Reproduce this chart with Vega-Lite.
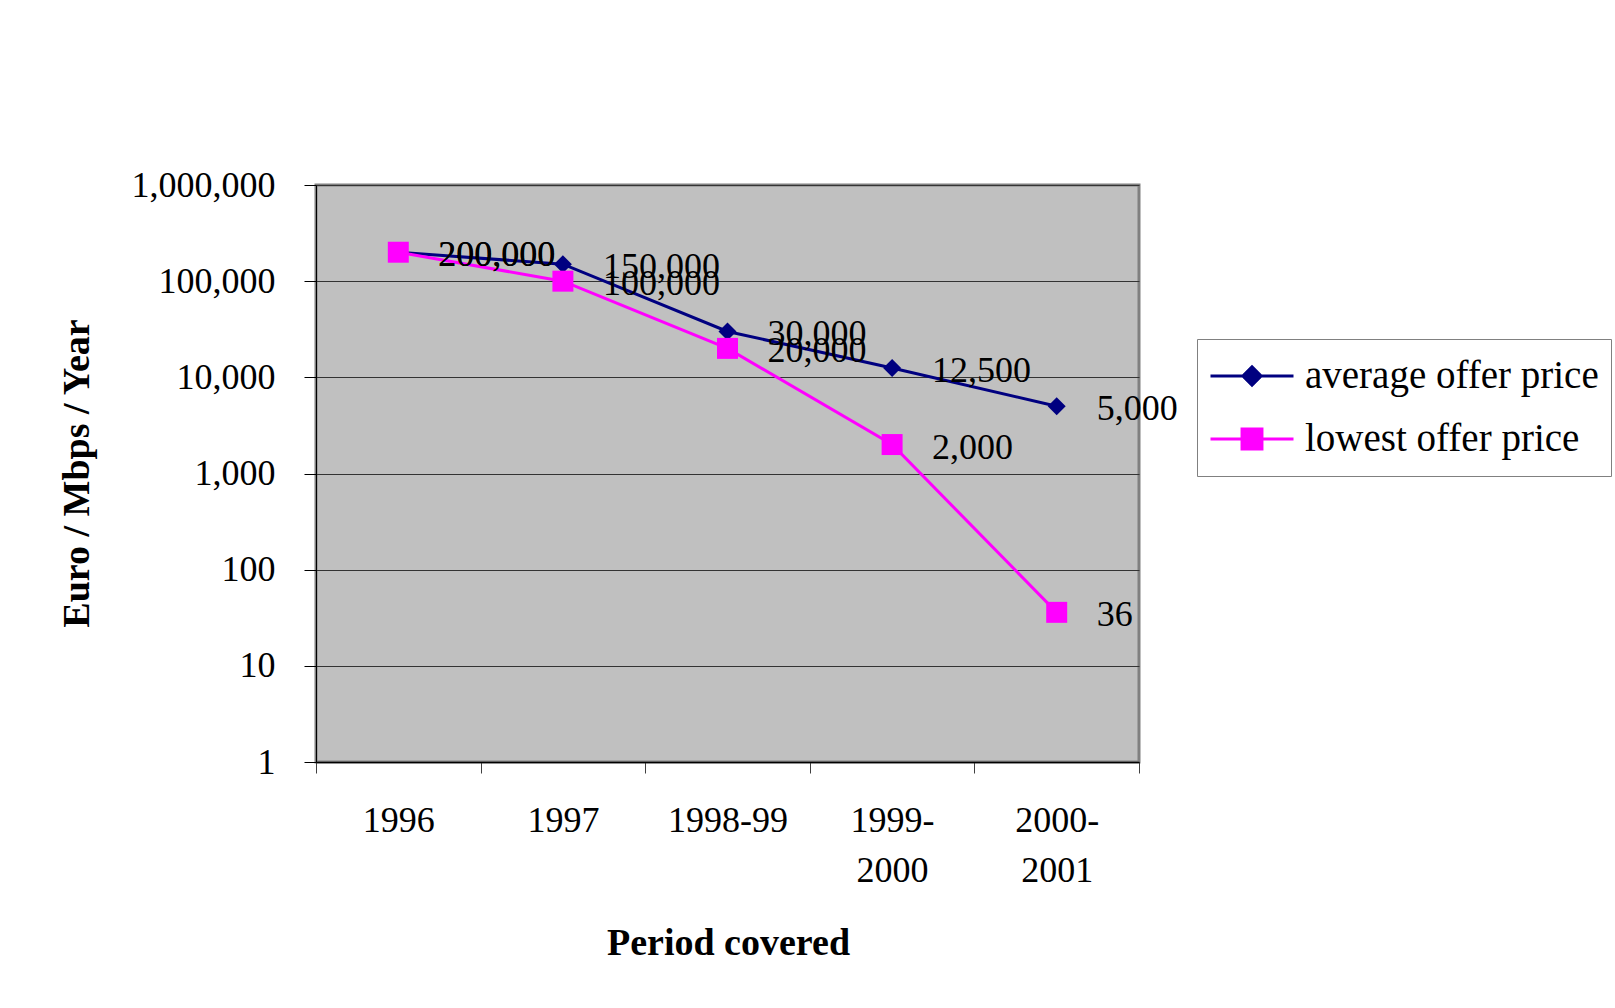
{
  "$schema": "https://vega.github.io/schema/vega-lite/v6.json",
  "autosize": {"type": "none"},
  "width": 823,
  "height": 577,
  "padding": {"left": 316, "top": 185, "right": 476, "bottom": 246},
  "background": "white",
  "config": {
    "font": "Liberation Serif",
    "view": {"fill": "#C0C0C0", "stroke": "#808080", "strokeWidth": 3}
  },
  "data": {
    "values": [
      {"period": "1996", "series": "average offer price", "value": 200000},
      {"period": "1997", "series": "average offer price", "value": 150000},
      {"period": "1998-99", "series": "average offer price", "value": 30000},
      {"period": "1999-2000", "series": "average offer price", "value": 12500},
      {"period": "2000-2001", "series": "average offer price", "value": 5000},
      {"period": "1996", "series": "lowest offer price", "value": 200000},
      {"period": "1997", "series": "lowest offer price", "value": 100000},
      {"period": "1998-99", "series": "lowest offer price", "value": 20000},
      {"period": "1999-2000", "series": "lowest offer price", "value": 2000},
      {"period": "2000-2001", "series": "lowest offer price", "value": 36}
    ]
  },
  "encoding": {
    "x": {
      "field": "period",
      "type": "ordinal",
      "sort": ["1996", "1997", "1998-99", "1999-2000", "2000-2001"],
      "bandPosition": 0.5,
      "scale": {"type": "band", "paddingInner": 0, "paddingOuter": 0},
      "axis": {
        "title": "Period covered",
        "titleFont": "Liberation Serif",
        "titleFontSize": 38,
        "titleFontWeight": "bold",
        "titleColor": "black",
        "titleX": 412,
        "titleY": 181,
        "titleAlign": "center",
        "titleBaseline": "middle",
        "labelAngle": 0,
        "labelFont": "Liberation Serif",
        "labelFontSize": 36,
        "labelColor": "black",
        "labelBaseline": "top",
        "labelLineHeight": 50,
        "labelPadding": 30,
        "labelExpr": "datum.value == '1999-2000' ? ['1999-', '2000'] : datum.value == '2000-2001' ? ['2000-', '2001'] : datum.value",
        "tickBand": "extent",
        "tickSize": 11,
        "tickColor": "#404040",
        "domainColor": "black",
        "domainWidth": 1.5,
        "grid": false
      }
    },
    "y": {
      "field": "value",
      "type": "quantitative",
      "scale": {"type": "log", "domain": [1, 1000000], "nice": false},
      "axis": {
        "title": "Euro / Mbps / Year",
        "titleFont": "Liberation Serif",
        "titleFontSize": 38,
        "titleFontWeight": "bold",
        "titleColor": "black",
        "titleX": -239,
        "titleY": 288,
        "titleAngle": -90,
        "titleAlign": "center",
        "titleBaseline": "middle",
        "values": [1, 10, 100, 1000, 10000, 100000, 1000000],
        "format": ",",
        "labelFont": "Liberation Serif",
        "labelFontSize": 36,
        "labelColor": "black",
        "labelPadding": 29,
        "labelBaseline": "middle",
        "tickSize": 12,
        "tickColor": "black",
        "domainColor": "black",
        "domainWidth": 1,
        "grid": true,
        "gridColor": "#333333",
        "gridWidth": 1
      }
    }
  },
  "layer": [
    {
      "mark": {"type": "line", "strokeWidth": 3},
      "encoding": {
        "color": {
          "field": "series",
          "type": "nominal",
          "scale": {"domain": ["average offer price", "lowest offer price"], "range": ["#000080", "#FF00FF"]},
          "legend": {
            "title": null,
            "orient": "none",
            "legendX": 881,
            "legendY": 154,
            "direction": "vertical",
            "fillColor": "white",
            "strokeColor": "#808080",
            "padding": 12,
            "symbolSize": 6889,
            "symbolStrokeWidth": 3,
            "symbolOpacity": 1,
            "clipHeight": 50,
            "rowPadding": 13,
            "labelFont": "Liberation Serif",
            "labelFontSize": 39,
            "labelColor": "black",
            "labelOffset": 10,
            "labelLimit": 500
          }
        }
      }
    },
    {
      "mark": {"type": "point", "filled": false, "opacity": 0, "size": 6889, "strokeWidth": 3},
      "encoding": {
        "color": {"field": "series", "type": "nominal"},
        "shape": {
          "field": "series",
          "type": "nominal",
          "scale": {
            "domain": ["average offer price", "lowest offer price"],
            "range": [
              "M-1,0H1M0,-0.22L0.22,0L0,0.22L-0.22,0ZM-0.16,-0.06H0.16M-0.16,0.06H0.16M-0.1,-0.12H0.1M-0.1,0.12H0.1M-0.04,-0.18H0.04M-0.04,0.18H0.04",
              "M-1,0H1M-0.24,-0.24H0.24V0.24H-0.24ZM-0.24,-0.18H0.24M-0.24,-0.12H0.24M-0.24,-0.06H0.24M-0.24,0.06H0.24M-0.24,0.12H0.24M-0.24,0.18H0.24"
            ]
          },
          "legend": null
        }
      }
    },
    {
      "transform": [{"filter": "datum.series === 'average offer price'"}],
      "mark": {"type": "point", "filled": true, "opacity": 1, "shape": "diamond", "size": 324, "color": "#000080"}
    },
    {
      "transform": [{"filter": "datum.series === 'lowest offer price'"}],
      "mark": {"type": "point", "filled": true, "opacity": 1, "shape": "square", "size": 440, "color": "#FF00FF"}
    },
    {
      "mark": {"type": "text", "align": "left", "baseline": "middle", "dx": 40, "dy": 3, "fontSize": 36, "font": "Liberation Serif", "color": "black"},
      "encoding": {
        "text": {"field": "value", "type": "quantitative", "format": ","}
      }
    }
  ]
}
